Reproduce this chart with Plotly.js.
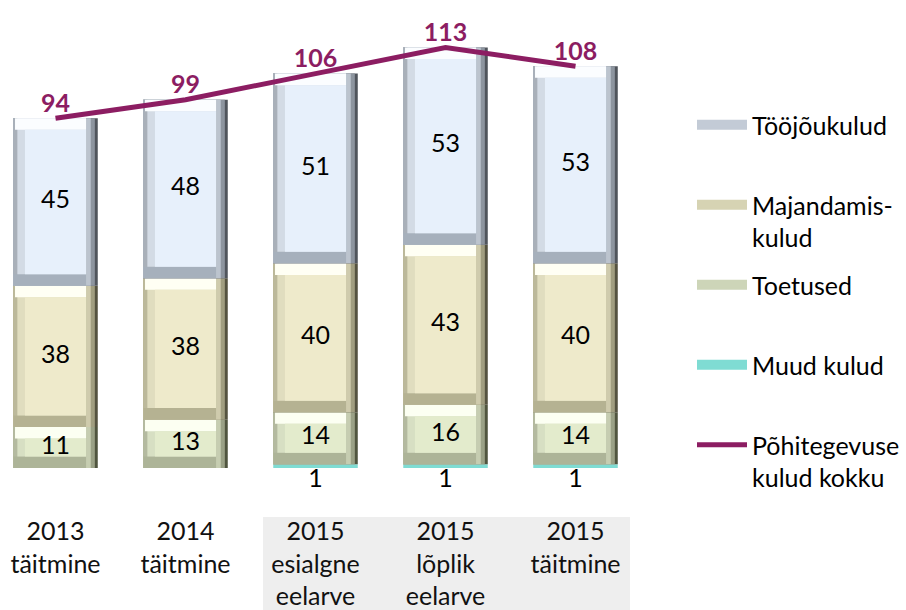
<!DOCTYPE html>
<html>
<head>
<meta charset="utf-8">
<script src="https://cdn.plot.ly/plotly-3.0.1.min.js"></script>
<style>html,body{margin:0;padding:0;background:#fff;}#chart{width:906px;height:610px;}</style>
</head>
<body>
<div id="chart"></div>
<script>
// ---- data ----
const categories = ['2013<br>täitmine', '2014<br>täitmine', '2015<br>esialgne<br>eelarve', '2015<br>lõplik<br>eelarve', '2015<br>täitmine'];
const muudKulud = [null, null, 1, 1, 1];
const toetused = [11, 13, 14, 16, 14];
const majandamiskulud = [38, 38, 40, 43, 40];
const toojoukulud = [45, 48, 51, 53, 53];
const kuludKokku = [94, 99, 106, 113, 108];
const seriesNames = ['Tööjõukulud', 'Majandamis-<br>kulud', 'Toetused', 'Muud kulud', 'Põhitegevuse<br>kulud kokku'];

// ---- styles ----
const FONT = 'Lato, "Open Sans", sans-serif';
const lineColor = '#8C1D62';
const palette = {
  toojou: {d1: '#50555c', d2: '#8d959f', d3: '#bcc4ce', bottom: '#a6b0bc', l1: '#a9b0b9', l2: '#d3dbe5', top: '#fbfdff', fill: '#e7f0fb', legend: '#c3cbd6'},
  majand: {d1: '#555340', d2: '#a19e80', d3: '#cfcbad', bottom: '#b5b292', l1: '#bcb99b', l2: '#e0ddbf', top: '#fffff4', fill: '#eeeacb', legend: '#d6d3b3'},
  toet:   {d1: '#50553f', d2: '#9aa186', d3: '#c6cdb1', bottom: '#adb498', l1: '#b4baa0', l2: '#d7dfc3', top: '#fcfff2', fill: '#e3ebcc', legend: '#cdd5b8'},
  muud:   {fill: '#7fdcd3'}
};
const W = 0.65, BX = 0.09, BY = 3.1;

const baseMuud = muudKulud.map(v => 0);
const baseToet = muudKulud.map(v => (v || 0));
const baseMaj = baseToet.map((b, i) => b + toetused[i]);
const baseToo = baseMaj.map((b, i) => b + majandamiskulud[i]);

// rectangle layer inside each bar segment: l/r insets in BX units, b/t insets in BY units
function layer(vals, base, l, r, b, t, color) {
  return {type: 'bar', x: categories, showlegend: false, hoverinfo: 'skip',
    y: vals.map(v => v - (b + t) * BY), base: base.map(bs => bs + b * BY),
    width: W - (l + r) * BX, offset: -W / 2 + l * BX, marker: {color: color, line: {width: 0}}};
}
function topBand(vals, base, l, r, h, color) {
  return {type: 'bar', x: categories, showlegend: false, hoverinfo: 'skip',
    y: vals.map(v => h * BY), base: base.map((bs, i) => bs + vals[i] - h * BY),
    width: W - (l + r) * BX, offset: -W / 2 + l * BX, marker: {color: color, line: {width: 0}}};
}
function bevelTraces(vals, base, c) {
  return [
    layer(vals, base, 0, 0, 0, 0, c.d1),
    layer(vals, base, 0, 0.25, 0, 0, c.d2),
    layer(vals, base, 0, 0.6, 0, 0, c.d3),
    layer(vals, base, 0, 1, 0, 0, c.bottom),
    layer(vals, base, 0, 1, 1, 0, c.l1),
    layer(vals, base, 0.35, 1, 1, 0, c.l2),
    topBand(vals, base, 0.15, 1, 1, c.top),
    layer(vals, base, 1, 1, 1, 1, c.fill)
  ];
}

const traces = [];
traces.push({type: 'bar', x: categories, y: muudKulud, base: baseMuud, width: W, offset: -W / 2,
  marker: {color: palette.muud.fill, line: {width: 0}}, showlegend: false, hoverinfo: 'skip'});
traces.push(...bevelTraces(toetused, baseToet, palette.toet));
traces.push(...bevelTraces(majandamiskulud, baseMaj, palette.majand));
traces.push(...bevelTraces(toojoukulud, baseToo, palette.toojou));

// value labels
function labelTrace(vals, base) {
  return {type: 'scatter', mode: 'text', x: categories, y: vals.map((v, i) => base[i] + v / 2),
    text: vals.map(String), textposition: 'middle center', textfont: {family: FONT, size: 25, color: '#000'},
    showlegend: false, hoverinfo: 'skip', cliponaxis: false};
}
traces.push(labelTrace(toetused, baseToet));
traces.push(labelTrace(majandamiskulud, baseMaj));
traces.push(labelTrace(toojoukulud, baseToo));
traces.push({type: 'scatter', mode: 'text', x: categories, y: baseMuud,
  text: muudKulud.map(v => v == null ? '' : String(v)), textposition: 'bottom center',
  textfont: {family: FONT, size: 25, color: '#000'}, showlegend: false, hoverinfo: 'skip', cliponaxis: false});

// total line
traces.push({type: 'scatter', mode: 'lines+text', x: categories, y: kuludKokku,
  text: kuludKokku.map(String), textposition: 'top center',
  textfont: {family: FONT, size: 25, color: lineColor, weight: 'bold'},
  line: {color: lineColor, width: 5}, showlegend: false, hoverinfo: 'skip', cliponaxis: false});

// legend entries
const legendColors = [palette.toojou.legend, palette.majand.legend, palette.toet.legend, palette.muud.fill, lineColor];
const legendWidths = [10, 10, 10, 10, 5];
const legendIds = ['legend', 'legend2', 'legend3', 'legend4', 'legend5'];
seriesNames.forEach((n, i) => {
  traces.push({type: 'scatter', mode: 'lines', x: [null], y: [null], name: n,
    line: {color: legendColors[i], width: legendWidths[i]}, legend: legendIds[i], showlegend: true, hoverinfo: 'skip'});
});

const legendY = [125, 221, 285, 365, 461];
const layout = {
  width: 906, height: 610,
  margin: {l: 0, r: 266, t: 10, b: 142},
  paper_bgcolor: '#fff', plot_bgcolor: 'rgba(0,0,0,0)',
  barmode: 'overlay', hovermode: false,
  font: {family: FONT, size: 25, color: '#111'},
  xaxis: {type: 'category', range: [-0.427, 4.496], showgrid: false, zeroline: false, showline: false,
    ticks: '', ticklabelstandoff: 46, tickfont: {family: FONT, size: 25, color: '#111'}, fixedrange: true},
  yaxis: {range: [0, 123.1], visible: false, fixedrange: true},
  shapes: [{type: 'rect', xref: 'x', yref: 'paper', x0: 1.596, x1: 4.419, y0: -0.107, y1: -0.33,
    fillcolor: '#eeeeee', line: {width: 0}, layer: 'below'}],
  showlegend: true
};
legendIds.forEach((id, i) => {
  layout[id] = {xref: 'container', yref: 'container', x: 692 / 906, y: 1 - legendY[i] / 610,
    xanchor: 'left', yanchor: 'middle', valign: 'top', bgcolor: 'rgba(0,0,0,0)', borderwidth: 0,
    font: {family: FONT, size: 25, color: '#000'}, itemwidth: 50, itemclick: false, itemdoubleclick: false};
});

Plotly.newPlot('chart', traces, layout, {displayModeBar: false, staticPlot: true});
</script>
</body>
</html>
